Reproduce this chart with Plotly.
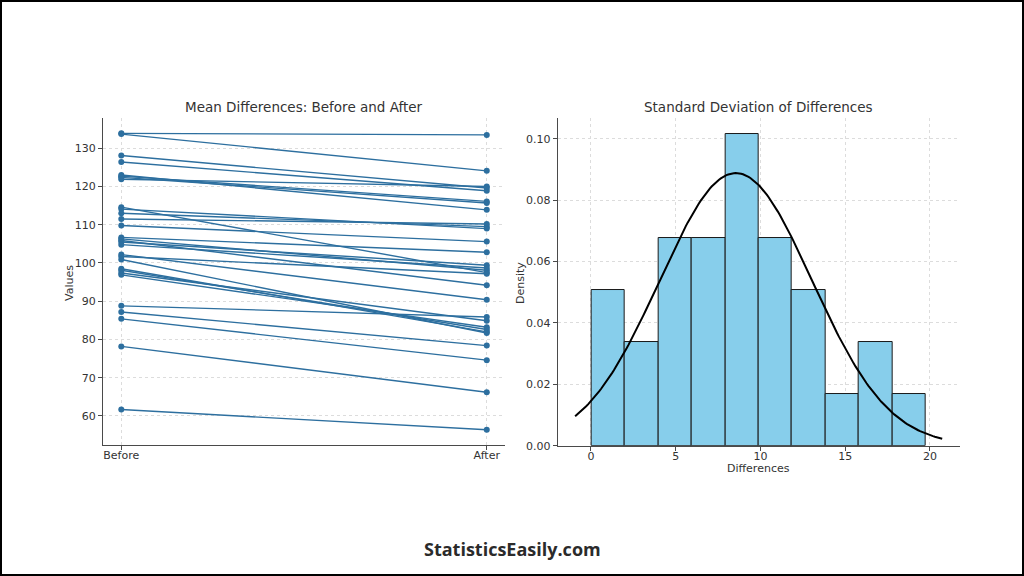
import numpy as np
import plotly.graph_objects as go

before = [133.9, 133.7, 128.1, 126.4, 123.0, 122.7, 122.4, 121.9, 114.6, 114.1,
          113.0, 111.5, 109.8, 106.7, 106.3, 105.9, 105.5, 104.8, 102.2, 101.7,
          100.9, 98.5, 98.1, 97.4, 96.9, 88.8, 87.2, 85.4, 78.2, 61.7]
after = [133.5, 124.1, 119.6, 118.9, 113.9, 116.1, 115.7, 120.0, 97.5, 109.0,
         109.5, 110.2, 105.6, 102.8, 98.1, 94.2, 99.4, 98.7, 90.4, 97.2,
         81.7, 82.0, 82.6, 84.9, 83.2, 85.9, 78.4, 74.6, 66.2, 56.4]
conditions = ["Before", "After"]

# histogram of differences (counts per bin)
hist_counts = [3, 2, 4, 4, 6, 4, 3, 1, 2, 1]
bin_start = 0.05
bin_width = 1.969

# fitted normal curve
fit_mean = 8.55
fit_std = 4.49
fit_xmin, fit_xmax = -0.93, 20.72

LINE_BLUE = "#2d6f9f"
GRID = "#dcdcdc"
AXIS = "#4a4a4a"
TXT = "#333333"
FONT = "DejaVu Sans"

fig = go.Figure()

# left: before/after lines
xs, ys = [], []
for b, a in zip(before, after):
    xs += [0, 1, None]
    ys += [b, a, None]
fig.add_trace(go.Scatter(x=xs, y=ys, mode="lines+markers",
                         line=dict(color=LINE_BLUE, width=1.4),
                         marker=dict(color=LINE_BLUE, size=6),
                         xaxis="x", yaxis="y", showlegend=False))

# right: histogram as density
n = sum(hist_counts)
centers = [bin_start + bin_width * (i + 0.5) for i in range(len(hist_counts))]
density = [c / (n * bin_width) for c in hist_counts]
fig.add_trace(go.Bar(x=centers, y=density, width=bin_width,
                     marker=dict(color="#87ceeb", line=dict(color="#1a1a1a", width=1)),
                     xaxis="x2", yaxis="y2", showlegend=False))

cx = np.linspace(fit_xmin, fit_xmax, 200)
cy = np.exp(-0.5 * ((cx - fit_mean) / fit_std) ** 2) / (fit_std * np.sqrt(2 * np.pi))
fig.add_trace(go.Scatter(x=cx, y=cy, mode="lines", line=dict(color="black", width=2),
                         xaxis="x2", yaxis="y2", showlegend=False))

axis_common = dict(showline=True, linecolor=AXIS, linewidth=1, ticks="outside",
                   ticklen=4, tickcolor=AXIS, showgrid=True, gridcolor=GRID,
                   griddash="dot", zeroline=False, automargin=False,
                   tickfont=dict(family=FONT, size=11, color=TXT))

fig.update_layout(
    width=1024, height=576,
    margin=dict(l=0, r=0, t=0, b=0),
    paper_bgcolor="white", plot_bgcolor="white",
    bargap=0,
    xaxis=dict(domain=[0.1006, 0.4932], range=[-0.05, 1.05], ticklabelstandoff=-4,
               tickvals=[0, 1], ticktext=conditions, anchor="y", **axis_common),
    yaxis=dict(domain=[0.228, 0.7944], range=[52.5, 137.8],
               tickvals=list(range(60, 131, 10)), anchor="x", **axis_common),
    xaxis2=dict(domain=[0.5446, 0.9375], range=[-1.96, 21.77], ticklabelstandoff=-4,
                tickvals=[0, 5, 10, 15, 20], anchor="y2", **axis_common),
    yaxis2=dict(domain=[0.2262, 0.7951], range=[0, 0.1068],
                tickvals=[0, 0.02, 0.04, 0.06, 0.08, 0.10], tickformat=".2f",
                anchor="x2", **axis_common),
    shapes=[dict(type="rect", xref="paper", yref="paper", x0=0, y0=0, x1=1, y1=1,
                 line=dict(color="black", width=4), fillcolor="rgba(0,0,0,0)")],
)

def note(text, x, y, size=11, angle=0, family=FONT, color=TXT):
    fig.add_annotation(text=text, x=x / 1024, y=1 - y / 576, xref="paper", yref="paper",
                       xanchor="center", yanchor="middle",
                       showarrow=False, textangle=angle,
                       font=dict(family=family, size=size, color=color))

note("Mean Differences: Before and After", 304, 107, size=13.5)
note("Standard Deviation of Differences", 758, 107, size=13.5)
note("Values", 69, 283, angle=-90)
note("Density", 520, 283, angle=-90)
note("Differences", 758, 468)
note("<b>StatisticsEasily.com</b>", 512, 549, size=18, family="Open Sans", color="#2b2b2b")

fig.write_html("out.html", config={"displayModeBar": False},
               post_script="document.body.style.margin='0';document.body.style.overflow='hidden';")
